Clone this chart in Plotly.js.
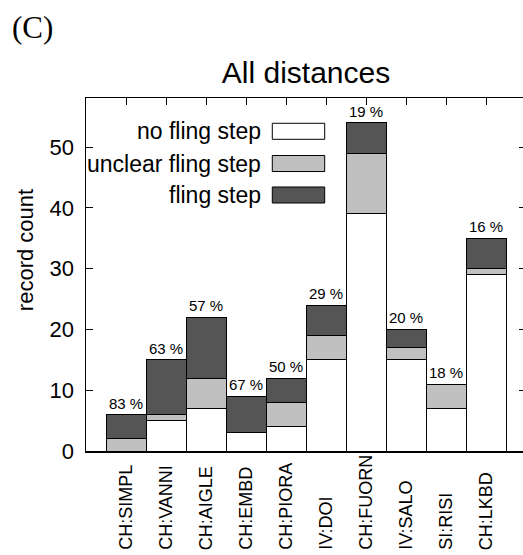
<!DOCTYPE html>
<html><head><meta charset="utf-8">
<script src="https://cdn.plot.ly/plotly-3.0.1.min.js"></script>
<style>html,body{margin:0;padding:0;overflow:hidden;background:#fff}</style>
</head><body><div id="chart" style="width:526px;height:555px"></div>
<script>
const categories = ['CH:SIMPL','CH:VANNI','CH:AIGLE','CH:EMBD','CH:PIORA','IV:DOI','CH:FUORN','IV:SALO','SI:RISI','CH:LKBD'];
const noFling = [0,5,7,3,4,15,39,15,7,29];
const unclearFling = [2,1,5,0,4,4,10,2,4,1];
const fling = [4,9,10,6,4,5,5,3,0,5];
const pctLabels = ['83 %','63 %','57 %','67 %','50 %','29 %','19 %','20 %','18 %','16 %'];
const seriesNames = ['no fling step','unclear fling step','fling step'];
const seriesColors = ['#ffffff','#c0c0c0','#555555'];
const yTicks = [0,10,20,30,40,50];

const FONT = 'Liberation Sans, Arial, sans-serif';
const seriesValues = [noFling, unclearFling, fling];

const traces = seriesValues.map((vals, k) => ({
  type: 'bar',
  x: categories,
  y: vals,
  name: seriesNames[k],
  width: 1,
  marker: {color: seriesColors[k], line: {color: '#000', width: 1}},
  showlegend: false,
  hoverinfo: 'skip'
}));

const totals = categories.map((c, i) => noFling[i] + unclearFling[i] + fling[i]);

const annotations = [];
// percentage labels above bars
categories.forEach((c, i) => {
  annotations.push({
    x: c, y: totals[i], xref: 'x', yref: 'y',
    text: pctLabels[i], showarrow: false,
    xanchor: 'center', yanchor: 'bottom', yshift: 1,
    font: {family: FONT, size: 15, color: '#000'}
  });
});
// rotated category labels, bottom-aligned
categories.forEach((c, i) => {
  annotations.push({
    x: c, y: -0.287, xref: 'x', yref: 'paper',
    text: c, showarrow: false, textangle: -90,
    xanchor: 'center', yanchor: 'bottom',
    font: {family: FONT, size: 18, color: '#000'}
  });
});
// custom legend (text left of swatch)
const legendRows = [0.9057, 0.8144, 0.7252];
const shapes = [];
seriesNames.forEach((n, k) => {
  annotations.push({
    x: 0.403, y: legendRows[k], xref: 'paper', yref: 'paper',
    text: n, showarrow: false, xanchor: 'right', yanchor: 'middle',
    font: {family: FONT, size: 23, color: '#000'}
  });
  shapes.push({
    type: 'rect', xref: 'paper', yref: 'paper',
    x0: 0.4234, x1: 0.5425, y0: legendRows[k] - 0.0227, y1: legendRows[k] + 0.0227,
    fillcolor: seriesColors[k], line: {color: '#000', width: 1}
  });
});
// y-axis title
annotations.push({
  x: -0.1386, y: 0.569, xref: 'paper', yref: 'paper',
  text: 'record count', showarrow: false, textangle: -90,
  xanchor: 'center', yanchor: 'middle',
  font: {family: FONT, size: 22, color: '#000'}
});
// panel tag
annotations.push({
  x: -0.1727, y: 1.201, xref: 'paper', yref: 'paper',
  text: '(C)', showarrow: false, xanchor: 'left', yanchor: 'middle',
  font: {family: 'Liberation Serif, DejaVu Serif, serif', size: 31, color: '#000'}
});

const layout = {
  width: 526, height: 555,
  margin: {l: 86, r: 0, t: 98, b: 104, pad: 0},
  paper_bgcolor: '#fff', plot_bgcolor: '#fff',
  barmode: 'stack', bargap: 0,
  font: {family: FONT, color: '#000'},
  title: {text: 'All distances', x: 0.5, xref: 'paper', xanchor: 'center',
          y: 0.870, yref: 'container', yanchor: 'middle',
          font: {family: FONT, size: 30, color: '#000'}},
  xaxis: {type: 'category', range: [-1, 10], showgrid: false, zeroline: false,
          showline: true, linecolor: '#000', linewidth: 1.5, mirror: 'ticks',
          ticks: 'inside', ticklen: 7, tickwidth: 1, tickcolor: '#000',
          showticklabels: false, layer: 'below traces', fixedrange: true},
  yaxis: {range: [0, 58.06], tickvals: yTicks, ticktext: yTicks.map(String),
          showgrid: false, zeroline: false,
          showline: true, linecolor: '#000', linewidth: 1.5, mirror: 'ticks',
          ticks: 'inside', ticklen: 7, tickwidth: 1, tickcolor: '#000',
          ticklabelstandoff: 6,
          tickfont: {family: FONT, size: 22, color: '#000'},
          layer: 'below traces', fixedrange: true},
  annotations: annotations,
  shapes: shapes,
  showlegend: false
};

Plotly.newPlot('chart', traces, layout, {displayModeBar: false, staticPlot: true});
</script>
</body></html>
